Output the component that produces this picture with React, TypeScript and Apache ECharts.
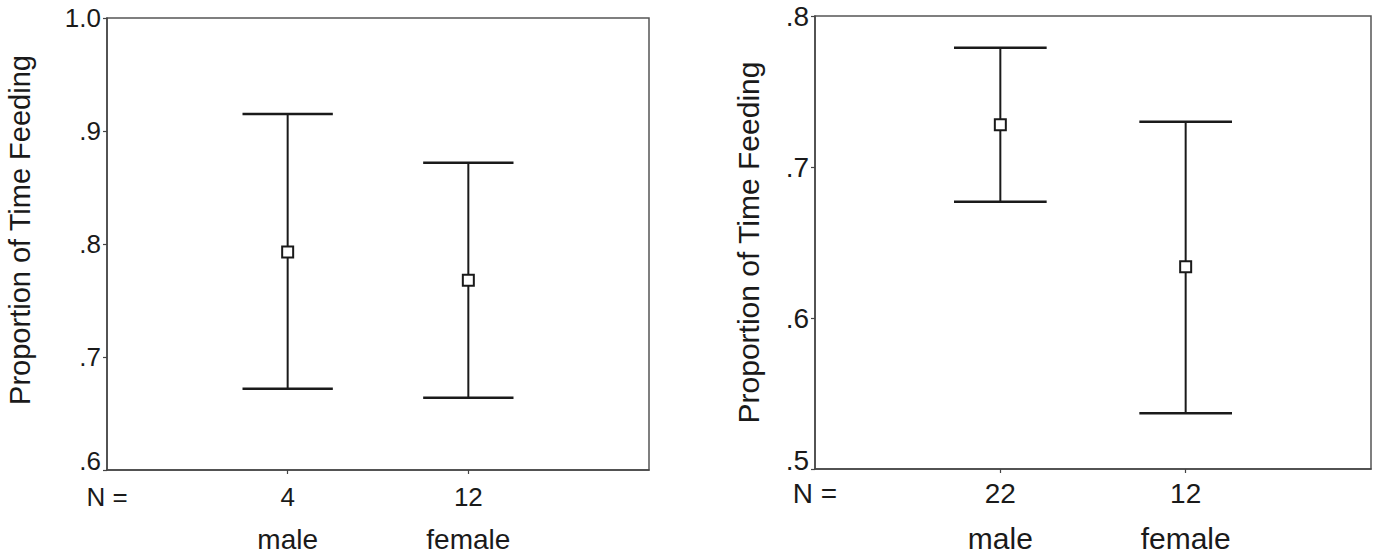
import React, { useEffect, useRef } from "react";
import * as echarts from "echarts";

const categories = ["male", "female"];
const catPositions = [1, 2];

const leftN = [4, 12];
const leftMean = [0.793, 0.768];
const leftLower = [0.672, 0.664];
const leftUpper = [0.915, 0.872];

const rightN = [22, 12];
const rightMean = [0.728, 0.634];
const rightLower = [0.677, 0.537];
const rightUpper = [0.779, 0.73];

const leftTicks = [0.6, 0.7, 0.8, 0.9, 1.0];
const rightTicks = [0.5, 0.6, 0.7, 0.8];

const yTitle = "Proportion of Time Feeding";
const nLabel = "N =";

const FONT = "Liberation Sans, Arial, sans-serif";
const INK = "#1a1a1a";

function makeTickFormatter(minVal: number) {
  return (v: number) => {
    const s = v.toFixed(1);
    const t = s.startsWith("0") ? s.slice(1) : s;
    return Math.abs(v - minVal) < 1e-9 ? `{low|${t}}` : t;
  };
}

function errorRender(params: any, api: any) {
  const x = api.value(0);
  const lo = api.value(1);
  const hi = api.value(2);
  const top = api.coord([x, hi]);
  const bot = api.coord([x, lo]);
  const half = api.size([0.25, 0])[0];
  const style = { stroke: INK, lineWidth: 2.5 };
  return {
    type: "group",
    children: [
      { type: "line", shape: { x1: top[0], y1: top[1], x2: bot[0], y2: bot[1] }, style: { stroke: INK, lineWidth: 2 } },
      { type: "line", shape: { x1: top[0] - half, y1: top[1], x2: top[0] + half, y2: top[1] }, style },
      { type: "line", shape: { x1: bot[0] - half, y1: bot[1], x2: bot[0] + half, y2: bot[1] }, style },
    ],
  };
}

function xAxis(gridIndex: number, counts: number[], nSize: number, catSize: number, lineHeight: number, margin: number) {
  return {
    type: "value",
    gridIndex,
    min: 0,
    max: 3,
    splitLine: { show: false },
    axisLine: { show: true, lineStyle: { color: "#444", width: 1.5 } },
    axisTick: { show: true, customValues: catPositions, length: 4, lineStyle: { color: "#444", width: 1.2 } },
    axisLabel: {
      show: true,
      customValues: [0, ...catPositions],
      formatter: (v: number) => {
        if (v === 0) return `{n|${nLabel}}`;
        const i = catPositions.indexOf(v);
        return i >= 0 ? `{n|${counts[i]}}\n{c|${categories[i]}}` : "";
      },
      fontFamily: FONT,
      fontSize: nSize,
      lineHeight,
      margin,
      color: INK,
      rich: {
        n: { fontFamily: FONT, fontSize: nSize, lineHeight, color: INK },
        c: { fontFamily: FONT, fontSize: catSize, lineHeight, color: INK },
      },
    },
  };
}

function yAxis(gridIndex: number, ticks: number[], fontSize: number, nameSize: number, nameGap: number, shift: number) {
  return {
    type: "value",
    gridIndex,
    min: ticks[0],
    max: ticks[ticks.length - 1],
    interval: 0.1,
    splitLine: { show: false },
    axisLine: { show: true, lineStyle: { color: "#444", width: 1.5 } },
    axisTick: { show: true, length: 4, lineStyle: { color: "#444", width: 1.2 } },
    axisLabel: {
      formatter: makeTickFormatter(ticks[0]),
      fontFamily: FONT,
      fontSize,
      color: INK,
      margin: 6,
      rich: { low: { fontFamily: FONT, fontSize, color: INK, padding: [0, 0, 18, 0] } },
    },
    name: yTitle,
    nameLocation: "middle",
    nameRotate: 90,
    nameGap,
    nameTextStyle: { fontFamily: FONT, fontSize: nameSize, color: INK, padding: [0, 0, 0, shift] },
  };
}

export default function App() {
  const ref = useRef<HTMLDivElement>(null);
  useEffect(() => {
    if (!ref.current) return;
    const chart = echarts.init(ref.current, undefined, { renderer: "svg" });
    const gridStyle = {
      show: true,
      borderColor: "#555",
      borderWidth: 1.5,
      backgroundColor: "transparent",
      containLabel: false,
      outerBoundsMode: "none",
    };
    chart.setOption({
      animation: false,
      backgroundColor: "#fff",
      grid: [
        { left: 107, top: 18, width: 542, height: 452, ...gridStyle },
        { left: 815, top: 16, width: 556, height: 453, ...gridStyle },
      ],
      xAxis: [xAxis(0, leftN, 26, 28, 43, 5), xAxis(1, rightN, 28, 30, 45, 2)],
      yAxis: [yAxis(0, leftTicks, 26, 29, 73, 28), yAxis(1, rightTicks, 28, 30, 52, 0)],
      series: [
        {
          type: "custom",
          xAxisIndex: 0,
          yAxisIndex: 0,
          renderItem: errorRender,
          encode: { x: 0, y: [1, 2] },
          data: catPositions.map((x, i) => [x, leftLower[i], leftUpper[i]]),
          z: 2,
        },
        {
          type: "scatter",
          xAxisIndex: 0,
          yAxisIndex: 0,
          symbol: "rect",
          symbolSize: 11,
          itemStyle: { color: "#fff", borderColor: INK, borderWidth: 2, opacity: 1 },
          data: catPositions.map((x, i) => [x, leftMean[i]]),
          z: 3,
        },
        {
          type: "custom",
          xAxisIndex: 1,
          yAxisIndex: 1,
          renderItem: errorRender,
          encode: { x: 0, y: [1, 2] },
          data: catPositions.map((x, i) => [x, rightLower[i], rightUpper[i]]),
          z: 2,
        },
        {
          type: "scatter",
          xAxisIndex: 1,
          yAxisIndex: 1,
          symbol: "rect",
          symbolSize: 11,
          itemStyle: { color: "#fff", borderColor: INK, borderWidth: 2, opacity: 1 },
          data: catPositions.map((x, i) => [x, rightMean[i]]),
          z: 3,
        },
      ],
    });
    return () => chart.dispose();
  }, []);
  return <div ref={ref} style={{ position: "absolute", left: 0, top: 0, width: 1380, height: 556 }} />;
}
